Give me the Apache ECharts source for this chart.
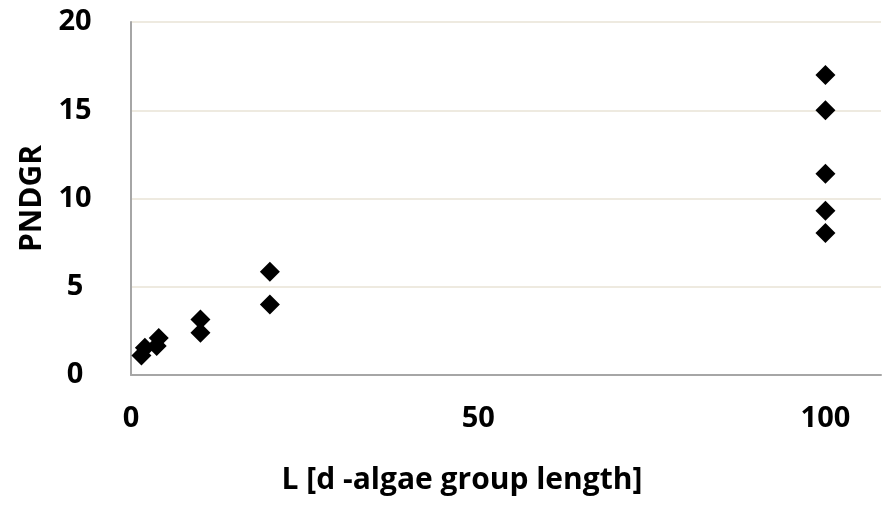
<!DOCTYPE html>
<html>
<head>
<meta charset="utf-8">
<script src="https://cdn.jsdelivr.net/npm/echarts@6/dist/echarts.min.js"></script>
<style>html,body{margin:0;padding:0;background:#fff}#c{width:884px;height:509px}</style>
</head>
<body>
<div id="c"></div>
<script>
var xValues = [1.5, 2, 3.7, 4, 10, 10, 20, 20, 100, 100, 100, 100, 100];
var yValues = [1.1, 1.55, 1.65, 2.1, 2.4, 3.15, 4.0, 5.85, 8.05, 9.3, 11.4, 15.0, 17.0];
var xTicks = [0, 50, 100];
var yTicks = [0, 5, 10, 15, 20];
var xTitle = 'L [d -algae group length]';
var yTitle = 'PNDGR';

var points = xValues.map(function (x, i) { return [x, yValues[i]]; });
var chart = echarts.init(document.getElementById('c'));
var font = '"Open Sans"';
chart.setOption({
  animation: false,
  grid: { left: 131, right: 0, top: 22, bottom: 134 },
  xAxis: {
    type: 'value', min: 0, max: 108, interval: 50,
    name: xTitle, nameLocation: 'middle', nameGap: 90,
    nameTextStyle: { fontFamily: font, fontWeight: 'bold', fontSize: 30, color: '#000', padding: [0, 88, 0, 0] },
    axisLine: { show: true, lineStyle: { color: '#A6A6A6', width: 2 } },
    axisTick: { show: false },
    splitLine: { show: false },
    axisLabel: {
      fontFamily: font, fontWeight: 'bold', fontSize: 29, color: '#000', margin: 29,
      formatter: function (v) { return xTicks.indexOf(v) >= 0 ? String(v) : ''; }
    }
  },
  yAxis: {
    type: 'value', min: 0, max: 20, interval: 5,
    name: yTitle, nameLocation: 'middle', nameGap: 84, nameRotate: 90,
    nameTextStyle: { fontFamily: font, fontWeight: 'bold', fontSize: 30, color: '#000' },
    axisLine: { show: true, lineStyle: { color: '#A6A6A6', width: 2 } },
    axisTick: { show: false },
    splitLine: { show: true, lineStyle: { color: '#EEEAE0', width: 2 } },
    axisLabel: {
      fontFamily: font, fontWeight: 'bold', fontSize: 29, color: '#000', margin: 56, align: 'center',
      formatter: function (v) { return yTicks.indexOf(v) >= 0 ? String(v) : ''; }
    }
  },
  series: [{
    type: 'scatter',
    data: points,
    symbol: 'diamond',
    symbolSize: 20,
    itemStyle: { color: '#000', opacity: 1 }
  }]
});
</script>
</body>
</html>
